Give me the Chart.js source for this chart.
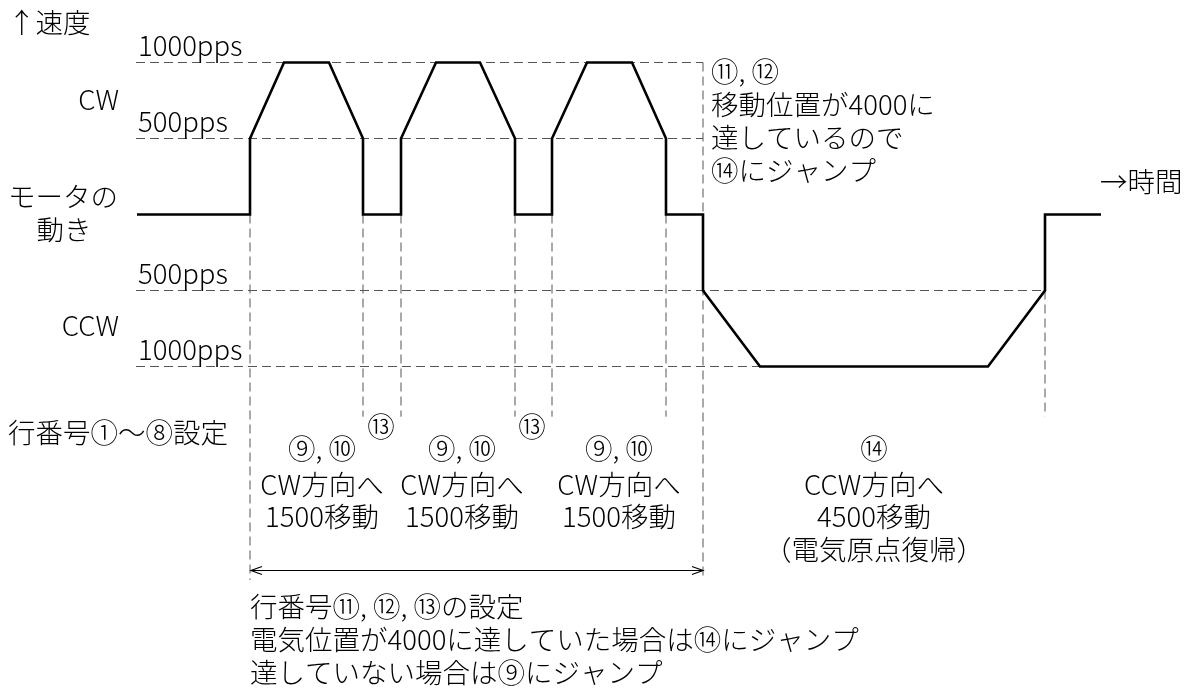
<!DOCTYPE html>
<html lang="ja">
<head>
<meta charset="utf-8">
<script src="https://cdn.jsdelivr.net/npm/chart.js"></script>
<style>
  body { margin: 0; background: #fff; }
  #wrap { width: 1194px; height: 690px; }
</style>
</head>
<body>
<div id="wrap"><canvas id="motionChart" width="1194" height="690"></canvas></div>
<script>
// モータの速度プロファイル (時間は任意単位, 速度は pps)
const times  = [0, 113, 113, 147, 192, 226, 226, 264, 264, 299, 343, 378, 378, 415, 415, 450, 495, 529, 529, 566, 566, 623, 851, 908, 908, 964];
const speeds = [0, 0, 500, 1000, 1000, 500, 0, 0, 500, 1000, 1000, 500, 0, 0, 500, 1000, 1000, 500, 0, 0, -500, -1000, -1000, -500, 0, 0];

// 破線の補助線
const levelValues = [1000, 500, -500, -1000];
const levelEnds   = [566, 566, 908, 623];
const guideTimes  = [113, 226, 264, 378, 415, 529, 566, 908];
const guideTops   = [0, 0, 0, 0, 0, 0, 1000, -500];
const guideBottoms = [-2405, -1330, -1330, -1330, -1330, -1330, -2405, -1330];

// 目盛ラベル
const tickLevels = [1000, 500, -500, -1000];
const tickLabels = ['1000pps', '500pps', '500pps', '1000pps'];

// 区間ラベル
const stepCenters = [185, 325, 482, 737];
const stepTexts = [
  ['⑨, ⑩', 'CW方向へ', '1500移動'],
  ['⑨, ⑩', 'CW方向へ', '1500移動'],
  ['⑨, ⑩', 'CW方向へ', '1500移動'],
  ['⑭', 'CCW方向へ', '4500移動', '（電気原点復帰）']
];
const waitTimes = [244, 395];

const arrowFrom = 114, arrowTo = 566, arrowLevel = -2342;

const FONT = '"Noto Sans CJK JP", "Noto Sans", sans-serif';

const datasets = [{
  data: times.map((t, i) => ({x: t, y: speeds[i]})),
  borderColor: '#000',
  borderWidth: 2.6,
  order: 0
}];
levelValues.forEach((v, i) => {
  datasets.push({
    data: [{x: -1, y: v}, {x: levelEnds[i], y: v}],
    borderColor: '#555', borderWidth: 1, borderDash: [9, 5], order: 1
  });
});
guideTimes.forEach((t, i) => {
  datasets.push({
    data: [{x: t, y: guideTops[i]}, {x: t, y: guideBottoms[i]}],
    borderColor: '#555', borderWidth: 1, borderDash: [9, 5], order: 1
  });
});

const textPlugin = {
  id: 'texts',
  afterDraw(chart) {
    const ctx = chart.ctx;
    const xs = chart.scales.x, ys = chart.scales.y;
    ctx.save();
    ctx.fillStyle = '#000';
    ctx.textBaseline = 'middle';
    ctx.font = '300 27.5px ' + FONT;

    function put(txt, x, y, align) {
      ctx.textAlign = align || 'left';
      ctx.fillText(txt, x, y);
    }

    // 軸ラベル
    put('↑速度', 8, 23);
    put('→時間', 1100, 182);
    tickLevels.forEach((v, i) => put(tickLabels[i], xs.getPixelForValue(0) + 1, ys.getPixelForValue(v) - 17));
    put('CW', 119, 100, 'right');
    put('CCW', 119, 326, 'right');
    put('モータの', 8, 197);
    put('動き', 64, 230, 'center');
    put('行番号①〜⑧設定', 8, 433);

    // 区間ラベル
    const rows = [449, 485, 517, 550];
    stepTexts.forEach((lines, i) => {
      const cx = xs.getPixelForValue(stepCenters[i]);
      lines.forEach((l, j) => put(l, cx, rows[j], 'center'));
    });
    waitTimes.forEach(t => put('⑬', xs.getPixelForValue(t), 427, 'center'));

    // 右上の説明
    const note = ['⑪, ⑫', '移動位置が4000に', '達しているので', '⑭にジャンプ'];
    note.forEach((l, j) => put(l, 711, 72 + j * 32.7));

    // 下の説明
    const foot = ['行番号⑪, ⑫, ⑬の設定', '電気位置が4000に達していた場合は⑭にジャンプ', '達していない場合は⑨にジャンプ'];
    foot.forEach((l, j) => put(l, 250, 607 + j * 33));

    // 両矢印
    const x1 = xs.getPixelForValue(arrowFrom), x2 = xs.getPixelForValue(arrowTo);
    const y = ys.getPixelForValue(arrowLevel);
    ctx.strokeStyle = '#000';
    ctx.lineWidth = 1.2;
    ctx.beginPath();
    ctx.moveTo(x1, y); ctx.lineTo(x2, y);
    ctx.moveTo(x1 + 11, y - 4); ctx.lineTo(x1, y); ctx.lineTo(x1 + 11, y + 4);
    ctx.moveTo(x2 - 11, y - 4); ctx.lineTo(x2, y); ctx.lineTo(x2 - 11, y + 4);
    ctx.stroke();
    ctx.restore();
  }
};

new Chart(document.getElementById('motionChart'), {
  type: 'line',
  data: { datasets: datasets },
  options: {
    responsive: false,
    animation: false,
    layout: { padding: 0 },
    elements: {
      point: { radius: 0, hoverRadius: 0 },
      line: { tension: 0, borderCapStyle: 'butt', borderJoinStyle: 'miter', fill: false }
    },
    scales: {
      x: { type: 'linear', display: false, min: -137, max: 1057 },
      y: { type: 'linear', display: false, min: -3128.3, max: 1411.2 }
    },
    plugins: { legend: { display: false }, tooltip: { enabled: false } }
  },
  plugins: [textPlugin]
});
</script>
</body>
</html>
